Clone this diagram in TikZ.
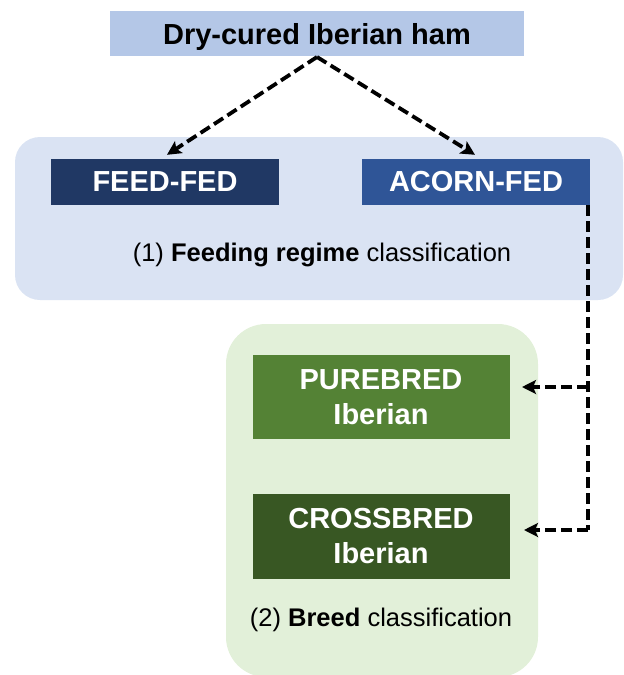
\documentclass[tikz,border=0pt]{standalone}
\usepackage{fontspec}
\setmainfont{Liberation Sans}
\usetikzlibrary{arrows.meta}

\definecolor{titlefill}{HTML}{B4C7E7}
\definecolor{bluepanel}{HTML}{DAE3F3}
\definecolor{feedfill}{HTML}{203864}
\definecolor{acornfill}{HTML}{2F5597}
\definecolor{greenpanel}{HTML}{E2F0D9}
\definecolor{purefill}{HTML}{548235}
\definecolor{crossfill}{HTML}{385723}

\tikzset{
  catbox/.style={rectangle, inner sep=0pt, text=white, align=center,
    font=\fontsize{29}{35}\selectfont\bfseries},
  panel/.style={rounded corners=#1},
  label/.style={inner sep=0pt, anchor=base, font=\fontsize{25.5}{30}\selectfont},
  flow/.style={line width=3.8pt, dash pattern=on 11pt off 5pt,
    -{Stealth[length=14pt, width=14pt, inset=3pt]}},
  flowline/.style={line width=3.8pt, dash pattern=on 11pt off 5pt}
}

\begin{document}
\begin{tikzpicture}[x=1pt, y=-1pt]
\useasboundingbox (0,0) rectangle (624,675);

% background panels of the two classification stages
\fill[bluepanel, panel=25pt] (15,137) rectangle (623,300);
\fill[greenpanel, panel=40pt] (226,324) rectangle (538,677);

% product
\node[rectangle, fill=titlefill, inner sep=0pt, minimum width=414pt, minimum height=45pt,
  text depth=0pt, font=\fontsize{29}{35}\selectfont\bfseries] (ham) at (317,33.5) {Dry-cured Iberian ham};

% stage 1: feeding regime
\node[catbox, fill=feedfill, minimum width=228pt, minimum height=46pt] (feed) at (165,182) {FEED-FED};
\node[catbox, fill=acornfill, minimum width=228pt, minimum height=46pt] (acorn) at (476,182) {ACORN-FED};
\node[label] (lab1) at (322,261) {(1) \textbf{Feeding regime} classification};

% stage 2: breed
\node[catbox, fill=purefill, minimum width=257pt, minimum height=84pt] (pure) at (381,397) {PUREBRED\\Iberian};
\node[catbox, fill=crossfill, minimum width=257pt, minimum height=85pt] (cross) at (381,536.5) {CROSSBRED\\Iberian};
\node[label] (lab2) at (381,626) {(2) \textbf{Breed} classification};

% connectors
\coordinate (split) at (317,57);
\coordinate (drop) at (588,205);
\coordinate (jpure) at (588,387);
\coordinate (jcross) at (588,530);
\coordinate (tpure) at (522,387);
\coordinate (tcross) at (524,530);

\draw[flow] (split) -- ([xshift=2pt, yshift=4pt]feed.north);
\draw[flow] (split) -- ([xshift=-1pt, yshift=4pt]acorn.north);
\draw[flowline] (drop) -- (jcross);
\draw[flow] (jpure) -- (tpure);
\draw[flow] (jcross) -- (tcross);
\end{tikzpicture}
\end{document}
